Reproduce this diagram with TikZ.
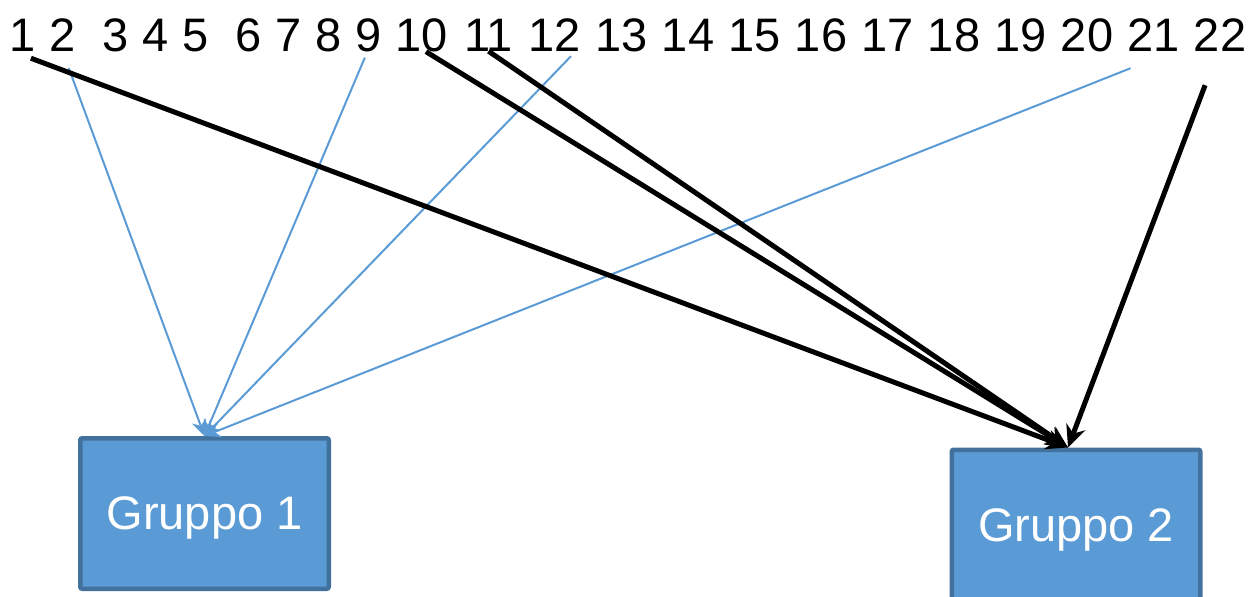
\documentclass[tikz,border=0pt]{standalone}
\usepackage{fontspec}
\setmainfont{Liberation Sans}
\usetikzlibrary{arrows.meta}
\definecolor{gbox}{RGB}{91,155,213}
\definecolor{gborder}{RGB}{65,113,156}
\begin{document}
\begin{tikzpicture}[x=1pt,y=-1pt,
    num/.style={anchor=base,inner sep=0pt,font=\fontsize{47}{56}\selectfont},
    gruppo/.style={draw=gborder,fill=gbox,line width=4.5pt,rounded corners=2pt,minimum width=248.5pt,minimum height=150.5pt,inner sep=0pt,text=white,text depth=0pt,font=\fontsize{47}{56}\selectfont},
    blu/.style={gbox,line width=2pt,-{Stealth[length=16pt,width=15pt]}},
    nero/.style={black,line width=5pt,-{Stealth[length=22pt,width=20pt]}}]
    \useasboundingbox (0,0) rectangle (1253,597);
    \foreach \i/\x in {1/22.9,2/62.8,3/116.0,4/155.9,5/195.8,6/249.0,7/288.9,8/328.9,9/368.8,10/422.0,11/488.5,
        12/555.0,13/621.5,14/688.0,15/754.5,16/821.1,17/887.6,18/954.1,19/1020.6,20/1087.1,21/1153.6,22/1220.1}
        \node[num] (n\i) at (\x,51) {\i};
    \node[gruppo] (g1) at (204.5,513.5) {Gruppo 1};
    \node[gruppo] (g2) at (1076,525) {Gruppo 2};
    % verso il gruppo 1
    \draw[blu] ([shift={(6,17)}]n2.south) -- (g1.north);
    \draw[blu] ([shift={(-4,6)}]n9.south) -- (g1.north);
    \draw[blu] ([shift={(16,5)}]n12.south) -- (g1.north);
    \draw[blu] ([shift={(-23,17)}]n21.south) -- (g1.north);
    % verso il gruppo 2
    \draw[nero] ([shift={(8,7)}]n1.south) -- ([xshift=-8pt]g2.north);
    \draw[nero] ([shift={(4,0)}]n10.south) -- ([xshift=-8pt]g2.north);
    \draw[nero] (n11.south) -- ([xshift=-8pt]g2.north);
    \draw[nero] ([shift={(-15,34)}]n22.south) -- ([xshift=-8pt]g2.north);
\end{tikzpicture}
\end{document}
